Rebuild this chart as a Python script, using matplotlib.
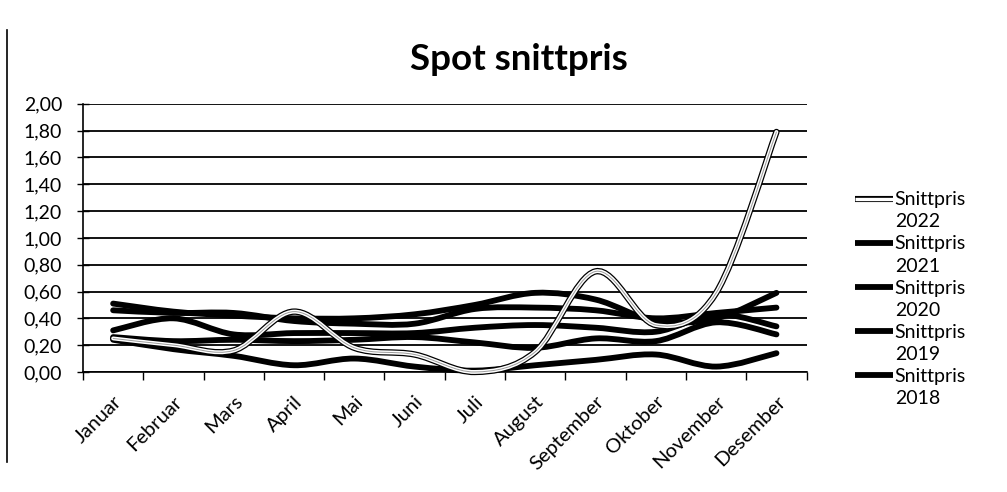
import numpy as np
import matplotlib.pyplot as plt
import matplotlib.patheffects as pe
from matplotlib.path import Path
from matplotlib.patches import PathPatch
from matplotlib.lines import Line2D

plt.rcParams['font.family'] = ['Lato', 'DejaVu Sans']

months = ["Januar", "Februar", "Mars", "April", "Mai", "Juni", "Juli",
          "August", "September", "Oktober", "November", "Desember"]

snitt_2022 = [0.25, 0.20, 0.16, 0.45, 0.18, 0.13, 0.00, 0.15, 0.75, 0.35, 0.59, 1.79]
snitt_2021 = [0.51, 0.45, 0.42, 0.40, 0.40, 0.43, 0.50, 0.59, 0.54, 0.38, 0.40, 0.59]
snitt_2020 = [0.24, 0.17, 0.12, 0.05, 0.10, 0.04, 0.01, 0.05, 0.09, 0.13, 0.04, 0.14]
snitt_2019 = [0.46, 0.44, 0.44, 0.38, 0.36, 0.36, 0.47, 0.48, 0.46, 0.40, 0.44, 0.48]
snitt_2018 = [0.31, 0.40, 0.28, 0.29, 0.29, 0.29, 0.33, 0.35, 0.33, 0.30, 0.43, 0.34]
snitt_2017 = [0.26, 0.23, 0.24, 0.23, 0.24, 0.26, 0.22, 0.18, 0.25, 0.23, 0.37, 0.28]

y_ticks = [0.0, 0.2, 0.4, 0.6, 0.8, 1.0, 1.2, 1.4, 1.6, 1.8, 2.0]
legend_years = ["2022", "2021", "2020", "2019", "2018"]


def smooth_path(values):
    # Excel-style smoothed line: cubic Bezier through each data point
    pts = np.column_stack([np.arange(len(values)), values]).astype(float)
    n = len(pts)
    verts = [pts[0]]
    codes = [Path.MOVETO]
    for i in range(n - 1):
        p0 = pts[max(i - 1, 0)]
        p1 = pts[i]
        p2 = pts[i + 1]
        p3 = pts[min(i + 2, n - 1)]
        verts += [p1 + (p2 - p0) / 6, p2 - (p3 - p1) / 6, p2]
        codes += [Path.CURVE4] * 3
    return Path(verts, codes)


fig = plt.figure(figsize=(10.07, 4.92), dpi=100)
ax = fig.add_axes([0.0824, 0.244, 0.7186, 0.545])

ax.set_xlim(-0.5, len(months) - 0.5)
ax.set_ylim(0, 2.0)

# grid
ax.set_yticks(y_ticks)
ax.set_yticklabels([f"{v:.2f}".replace(".", ",") for v in y_ticks], fontsize=14)
ax.yaxis.grid(True, color="black", lw=1.3)
ax.set_axisbelow(True)
ax.tick_params(axis="y", direction="inout", length=8, width=1, pad=11)

ax.set_xticks(np.arange(-0.5, len(months)), minor=False)
ax.set_xticklabels([])
ax.set_xticks(np.arange(len(months)), minor=True)
ax.set_xticklabels(months, minor=True, rotation=45, ha="right",
                   rotation_mode="anchor", fontsize=14.5)
ax.tick_params(axis="x", which="major", direction="out", length=6, width=1)
ax.tick_params(axis="x", which="minor", length=0, pad=15)

for s in ["top", "right"]:
    ax.spines[s].set_visible(False)
for s in ["left", "bottom"]:
    ax.spines[s].set_color("black")
    ax.spines[s].set_linewidth(1.2)

black_series = [snitt_2017, snitt_2018, snitt_2019, snitt_2020, snitt_2021]
for vals in black_series:
    ax.add_patch(PathPatch(smooth_path(vals), fill=False, edgecolor="black",
                           lw=4.2, capstyle="round", joinstyle="round",
                           clip_on=False, zorder=3))

# 2022 as a double (outlined) line
p22 = smooth_path(snitt_2022)
ax.add_patch(PathPatch(p22, fill=False, edgecolor="black", lw=4.6,
                       capstyle="round", clip_on=False, zorder=4))
ax.add_patch(PathPatch(p22, fill=False, edgecolor="white", lw=2.8,
                       capstyle="round", clip_on=False, zorder=5))
ax.add_patch(PathPatch(p22, fill=False, edgecolor="#9a9a9a", lw=0.7,
                       capstyle="round", clip_on=False, zorder=6))

fig.text(0.515, 0.88, "Spot snittpris", ha="center", va="center",
         fontsize=26.5, fontweight="bold")

# legend: handle on the "Snittpris" row, year on the row below
handles, labels = [], []
for yr in legend_years:
    handles += [Line2D([], [], color="black", lw=4.2, solid_capstyle="butt"),
                Line2D([], [], color="none")]
    labels += ["Snittpris", yr]
leg = fig.legend(handles, labels, loc="upper left",
                 bbox_to_anchor=(0.849, 0.611), frameon=False, fontsize=14,
                 handlelength=1.95, handletextpad=0.1, labelspacing=0.26,
                 borderaxespad=0, borderpad=0)
# the 2022 sample is a double line too
h22 = leg.legend_handles[0]
h22.set_color("white")
h22.set_linewidth(2.4)
h22.set_path_effects([pe.Stroke(linewidth=4.4, foreground="black"), pe.Normal()])

fig.add_artist(Line2D([0.007, 0.007], [0.06, 0.94], color="black", lw=1.2,
                      transform=fig.transFigure))

fig.savefig("out.png", dpi=100)
